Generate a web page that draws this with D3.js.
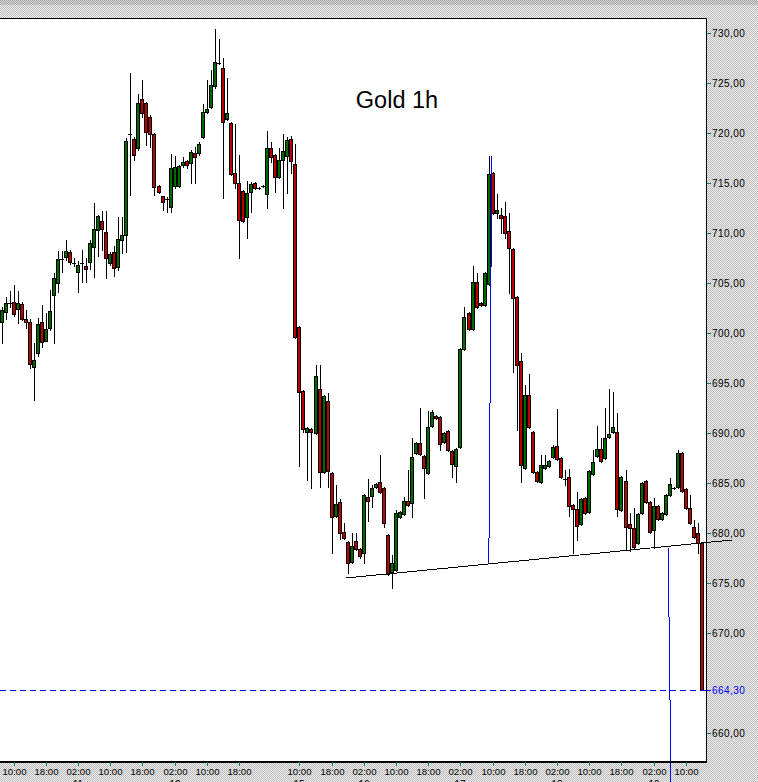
<!DOCTYPE html>
<html><head><meta charset="utf-8">
<script src="https://cdn.jsdelivr.net/npm/d3@7"></script>
<style>html,body{margin:0;padding:0;background:#fff;}svg{display:block;}</style>
</head><body>
<svg id="c" width="758" height="782"></svg>
<script>
const title = "Gold 1h";
const opens = [701.1,702.1,703.0,703.1,702.4,702.9,701.4,701.1,696.6,698.0,701.1,699.2,700.5,703.8,705.0,707.4,707.6,708.1,707.0,706.1,707.0,706.7,707.1,708.6,710.3,711.2,710.1,707.0,708.1,706.6,709.3,709.8,719.9,719.4,718.5,723.4,723.0,721.6,719.9,714.7,713.7,713.4,712.6,714.7,714.7,716.8,717.2,717.0,718.0,718.0,719.6,722.1,722.6,724.7,727.0,726.5,721.4,721.0,716.0,715.0,714.2,711.6,714.1,715.0,714.5,714.7,713.9,718.5,717.8,715.6,717.3,717.7,719.4,716.9,700.6,694.2,690.1,690.4,690.0,694.4,686.1,693.2,686.0,681.7,683.1,680.1,679.1,677.1,679.2,678.4,678.0,683.6,683.7,684.6,685.1,684.5,679.8,676.1,676.3,681.6,681.9,683.2,683.0,688.0,689.0,687.7,686.0,690.7,691.7,691.6,689.1,690.2,688.2,686.7,688.6,698.4,702.0,700.4,705.1,703.0,702.8,704.9,716.0,712.0,711.8,711.7,710.2,708.4,703.6,697.2,686.5,693.8,690.1,686.1,685.1,686.5,686.7,687.6,688.7,687.5,685.4,685.6,682.8,682.4,680.9,683.5,682.1,685.9,687.7,688.4,687.5,689.6,690.1,690.1,682.3,685.2,680.9,680.5,679.0,682.0,685.2,683.1,680.3,682.7,681.4,681.9,683.8,684.5,684.6,688.0,684.4,682.5,680.6,680.0,679.0];
const highs = [702.6,703.6,704.2,704.8,704.2,703.1,702.3,701.4,699.0,701.5,702.8,702.0,704.3,706.0,708.2,708.2,709.3,708.3,707.5,707.2,708.3,707.5,709.3,713.0,711.8,712.2,712.2,708.1,708.7,711.6,711.6,719.5,726.0,719.6,723.9,725.3,723.1,721.8,720.0,714.8,713.7,713.6,717.9,717.7,716.8,717.6,717.3,718.3,718.6,719.1,722.9,725.3,726.3,730.4,729.4,727.5,725.5,721.1,720.9,717.8,714.3,715.2,715.1,715.1,714.6,714.8,720.2,719.1,717.9,718.5,719.9,719.6,719.7,718.9,700.7,694.3,690.6,690.5,696.8,696.8,693.8,694.0,686.1,684.8,683.4,681.0,679.2,680.0,680.0,678.5,683.9,685.4,684.8,685.0,687.8,684.6,679.9,677.8,682.3,682.2,683.6,686.3,689.5,689.1,692.5,687.8,692.2,692.3,691.8,691.7,690.1,690.3,688.3,688.5,698.5,702.6,702.1,706.7,706.0,703.1,706.1,717.7,716.1,713.9,712.5,713.1,712.0,708.5,703.7,698.0,694.8,695.9,690.2,686.2,687.8,687.8,687.3,688.8,692.4,687.6,686.3,686.4,682.9,684.1,683.5,683.6,686.3,688.3,690.7,689.5,692.5,694.4,694.1,692.0,685.7,686.3,682.0,682.5,682.0,685.1,685.3,683.2,683.5,682.8,682.1,683.9,685.5,684.6,688.3,688.1,684.5,683.8,681.3,681.0,679.1];
const lows = [699.0,701.4,702.6,701.7,701.0,701.3,700.5,696.5,693.3,697.7,698.6,699.2,700.3,699.0,704.1,706.1,707.3,706.9,706.7,704.1,705.1,705.1,706.4,705.6,707.7,708.3,705.5,706.8,705.7,706.3,708.0,708.1,713.8,717.3,718.3,721.6,718.8,718.6,713.8,714.0,712.3,712.1,712.1,714.5,714.6,716.6,716.5,715.0,715.0,717.8,719.5,722.0,722.5,724.5,726.9,713.5,721.3,715.8,714.5,707.5,711.1,709.5,712.1,714.4,714.4,714.6,712.5,717.1,714.1,715.5,712.5,714.0,716.0,699.5,686.7,690.1,685.3,684.5,689.9,684.6,686.0,684.6,678.0,681.6,679.4,679.4,676.0,677.0,678.3,677.5,677.0,681.2,682.6,684.5,684.0,680.6,675.8,674.5,676.2,681.5,681.8,682.7,681.6,687.9,687.8,683.5,685.9,690.6,691.4,688.3,689.0,688.2,685.6,685.1,688.5,698.3,700.3,700.3,702.5,702.7,702.7,704.8,711.9,711.5,710.0,709.5,704.0,696.1,690.3,685.1,686.4,690.5,686.0,685.1,685.0,686.4,686.6,687.5,687.3,685.5,684.8,681.7,678.0,679.3,680.8,681.9,682.0,685.8,687.6,687.1,687.4,689.5,690.0,681.7,682.2,678.3,678.2,678.5,678.9,681.9,683.0,680.0,678.5,681.3,681.3,681.8,683.7,684.4,684.5,684.1,682.4,680.9,679.5,678.0,664.3];
const closes = [702.3,703.0,703.0,701.9,703.0,701.4,701.1,696.9,697.3,700.9,699.1,700.4,702.2,705.5,707.4,707.4,708.2,707.1,707.0,706.8,707.0,706.4,709.0,710.4,711.7,710.4,707.5,707.9,706.5,709.4,709.8,719.2,719.9,717.8,723.0,722.0,720.1,719.9,714.6,714.1,713.1,713.4,716.5,716.6,716.7,717.1,716.8,718.1,717.6,718.9,722.1,722.4,724.8,727.1,727.0,721.1,722.0,715.9,715.0,711.3,711.2,714.0,714.9,714.5,714.5,714.7,718.5,717.6,715.6,717.3,718.2,719.3,717.2,699.6,694.1,690.4,690.5,690.1,695.7,686.1,693.7,686.2,681.6,682.9,680.0,679.5,677.0,678.7,678.4,677.7,683.8,683.2,684.5,684.9,684.1,681.0,675.9,677.0,682.0,682.1,683.2,682.8,687.6,689.0,687.9,686.5,690.6,692.1,691.5,688.9,690.0,688.3,686.9,688.4,698.4,701.6,700.4,705.1,702.6,702.8,706.0,715.9,712.0,712.3,711.5,710.0,708.5,703.5,696.8,686.8,693.8,690.6,686.1,685.2,686.8,686.8,687.2,688.6,687.4,685.6,685.4,682.7,682.4,680.7,683.4,682.0,686.2,687.1,688.4,687.2,689.5,689.9,690.6,682.4,685.6,680.6,680.5,678.6,681.9,685.0,683.1,680.1,682.7,681.4,682.0,683.8,684.9,684.5,688.0,684.2,682.5,681.0,679.6,679.0,664.3];
const tickIdx = [3,11,19,27,35,43,51,59,74,82,90,98,106,114,122,130,138,146,154,162,170];
const tickLabels = ["10:00","18:00","02:00","10:00","18:00","02:00","10:00","18:00","10:00","18:00","02:00","10:00","18:00","02:00","10:00","18:00","02:00","10:00","18:00","02:00","10:00"];
const dayIdx = [19,43,74,90,114,138,162];
const dayLabels = ["11","12","15","16","17","18","19"];
const yTicks = [660,670,675,680,685,690,695,700,705,710,715,720,725,730];
const lastPrice = 664.30;
const neckline = [{i:85.6,v:675.5},{i:181.4,v:679.3}];
const measureLines = [[{i:121.8,v:717.7},{i:121.05,v:677.0}],[{i:165.6,v:678.5},{i:166.3,v:655.1}]];

const svg = d3.select("#c");
const W = 758, H = 782, plotR = 706, plotT = 18, plotB = 761;
const font = "'Liberation Sans', Arial, sans-serif";
const defs = svg.append("defs");
function checker(id, a, b){
  const p = defs.append("pattern").attr("id",id).attr("width",2).attr("height",2).attr("patternUnits","userSpaceOnUse");
  p.append("rect").attr("width",2).attr("height",2).attr("fill",b);
  p.append("rect").attr("x",0).attr("y",0).attr("width",1).attr("height",1).attr("fill",a);
  p.append("rect").attr("x",1).attr("y",1).attr("width",1).attr("height",1).attr("fill",a);
}
checker("chk","#bdbdbd","#ececec");
checker("chk2","#a6a6a6","#d6d6d6");

svg.append("rect").attr("width",W).attr("height",H).attr("fill","url(#chk)");
svg.append("rect").attr("width",W).attr("height",5).attr("fill","url(#chk2)");
svg.append("rect").attr("x",0).attr("y",plotT).attr("width",plotR).attr("height",plotB-plotT).attr("fill","#fff");

const x = d3.scaleLinear().domain([0,174]).range([1.5,702]);
const y = d3.scaleLinear().domain([660,730]).range([733,33]);

const data = opens.map((o,i)=>({i,o,h:highs[i],l:lows[i],c:closes[i]}));
const g = svg.append("g").attr("shape-rendering","crispEdges");
data.forEach(d=>{
  const cx = Math.round(x(d.i));
  const yh = Math.round(y(d.h)), yl = Math.round(y(d.l));
  g.append("line").attr("x1",cx+0.5).attr("x2",cx+0.5).attr("y1",yh).attr("y2",yl+1).attr("stroke","#000").attr("stroke-width",1);
  const top = Math.round(y(Math.max(d.o,d.c))), bot = Math.round(y(Math.min(d.o,d.c)));
  if (bot - top < 2) {
    g.append("line").attr("x1",cx-2).attr("x2",cx+2).attr("y1",top+0.5).attr("y2",top+0.5).attr("stroke","#000");
  } else {
    g.append("rect").attr("x",cx-1.5).attr("y",top+0.5).attr("width",3).attr("height",bot-top)
      .attr("fill", d.c >= d.o ? "#006a00" : "#b80000").attr("stroke","#000").attr("stroke-width",1);
  }
});

// neckline
svg.append("line").attr("shape-rendering","crispEdges")
  .attr("x1",x(neckline[0].i)).attr("y1",y(neckline[0].v)).attr("x2",x(neckline[1].i)).attr("y2",y(neckline[1].v))
  .attr("stroke","#000").attr("stroke-width",1);
// measure lines
measureLines.forEach(m=>{
  svg.append("line").attr("shape-rendering","crispEdges")
    .attr("x1",x(m[0].i)).attr("y1",y(m[0].v)).attr("x2",x(m[1].i)).attr("y2",y(m[1].v))
    .attr("stroke","#0000ff").attr("stroke-width",1);
});
// last price dashed
const ylp = Math.round(y(lastPrice))+0.5;
svg.append("line").attr("shape-rendering","crispEdges").attr("x1",0).attr("x2",plotR).attr("y1",ylp).attr("y2",ylp)
  .attr("stroke","#0000ff").attr("stroke-dasharray","6,4");

// borders
const b = svg.append("g").attr("shape-rendering","crispEdges");
b.append("line").attr("x1",0).attr("x2",plotR+1).attr("y1",plotT+0.5).attr("y2",plotT+0.5).attr("stroke","#000");
b.append("line").attr("x1",plotR+0.5).attr("x2",plotR+0.5).attr("y1",plotT).attr("y2",plotB+1).attr("stroke","#000");
b.append("line").attr("x1",0).attr("x2",plotR+1).attr("y1",plotB+0.5).attr("y2",plotB+0.5).attr("stroke","#000").attr("stroke-width",2);

// y axis
yTicks.forEach(v=>{
  const yy = Math.round(y(v))+0.5;
  b.append("line").attr("x1",plotR+1).attr("x2",plotR+5).attr("y1",yy).attr("y2",yy).attr("stroke","#008080");
  svg.append("text").attr("x",plotR+6).attr("y",yy+3.8).attr("font-family",font).attr("font-size",10)
    .attr("letter-spacing","0.45px").attr("fill","#000").text(d3.format(".2f")(v).replace(".",","));
});
{
  b.append("line").attr("x1",plotR+1).attr("x2",plotR+5).attr("y1",ylp).attr("y2",ylp).attr("stroke","#0000ff");
  svg.append("text").attr("x",plotR+6).attr("y",ylp+3.8).attr("font-family",font).attr("font-size",10)
    .attr("letter-spacing","0.45px").attr("fill","#0000ff").text(d3.format(".2f")(lastPrice).replace(".",","));
}
// x axis
tickIdx.forEach((k,j)=>{
  const xx = Math.round(x(k))+0.5;
  b.append("line").attr("x1",xx).attr("x2",xx).attr("y1",plotB+1).attr("y2",plotB+5).attr("stroke","#008080");
  svg.append("text").attr("x",xx).attr("y",775).attr("text-anchor","middle").attr("font-family",font)
    .attr("font-size",9.6).attr("fill","#000").text(tickLabels[j]);
});
dayIdx.forEach((k,j)=>{
  svg.append("text").attr("x",Math.round(x(k))).attr("y",788).attr("text-anchor","middle").attr("font-family",font)
    .attr("font-size",10).attr("fill","#000").text(dayLabels[j]);
});
// title
svg.append("text").attr("x",397).attr("y",108).attr("text-anchor","middle").attr("font-family",font)
  .attr("font-size",23.5).attr("fill","#000").text(title);
</script>
</body></html>
